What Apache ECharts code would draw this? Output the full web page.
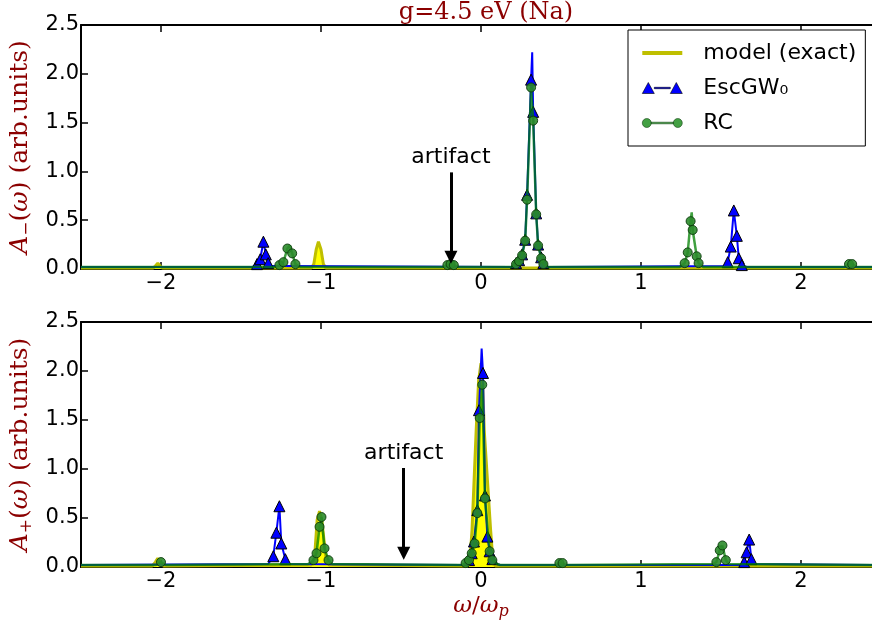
<!DOCTYPE html>
<html>
<head>
<meta charset="utf-8">
<script src="https://cdn.jsdelivr.net/npm/echarts@6/dist/echarts.min.js"></script>
<style>
  html, body { margin: 0; padding: 0; background: #fff; }
  #chart { width: 872px; height: 634px; }
</style>
</head>
<body>
<div id="chart"></div>
<script>
// tick positions
const xTicks = [-2, -1, 0, 1, 2];

// A_-(w), top panel: [omega, value] (third entry 0 = point without marker)
const modelMinus = [
    [-2.5, 0.01], [-2.05, 0.01], [-2.035, 0.03], [-2.02, 0.06], [-2.005, 0.03], [-1.99, 0.01],
    [-1.06, 0.01], [-1.045, 0.05], [-1.03, 0.2], [-1.016, 0.28], [-1.0, 0.2], [-0.985, 0.05],
    [-0.97, 0.01], [2.5, 0.01]
];
const escMinus = [
    [-2.5, 0.02], [-1.43, 0.02], [-1.40, 0.05], [-1.38, 0.10], [-1.36, 0.28], [-1.345, 0.15],
    [-1.33, 0.06], [-1.31, 0.03], [-1.2, 0.03], [0.19, 0.02], [0.219, 0.06], [0.238, 0.09],
    [0.257, 0.15], [0.276, 0.30], [0.288, 0.76], [0.313, 1.94], [0.32, 2.22, 0], [0.326, 1.61],
    [0.345, 0.57], [0.357, 0.25], [0.376, 0.12], [0.39, 0.06], [0.42, 0.02], [1.52, 0.03],
    [1.542, 0.07], [1.561, 0.23], [1.58, 0.60], [1.599, 0.34], [1.611, 0.11], [1.63, 0.04],
    [1.66, 0.02], [2.5, 0.02]
];
const rcMinus = [
    [-2.5, 0.02], [-1.29, 0.02], [-1.26, 0.04], [-1.235, 0.07], [-1.21, 0.21], [-1.195, 0.24, 0],
    [-1.18, 0.16], [-1.16, 0.05], [-1.13, 0.02], [-0.24, 0.02], [-0.21, 0.04], [-0.19, 0.05],
    [-0.17, 0.04], [-0.14, 0.02], [0.19, 0.02], [0.219, 0.05], [0.238, 0.08], [0.257, 0.14],
    [0.276, 0.29], [0.288, 0.71], [0.313, 1.86], [0.326, 1.52], [0.345, 0.56], [0.357, 0.24],
    [0.376, 0.11], [0.39, 0.05], [0.42, 0.02], [1.24, 0.02], [1.273, 0.06], [1.292, 0.17],
    [1.31, 0.49], [1.317, 0.58, 0], [1.323, 0.40], [1.348, 0.13], [1.36, 0.06], [1.39, 0.02],
    [2.27, 0.02], [2.3, 0.05], [2.32, 0.05], [2.35, 0.02], [2.5, 0.02]
];

// A_+(w), bottom panel
const modelPlus = [
    [-2.5, 0.01], [-2.055, 0.01], [-2.035, 0.05], [-2.02, 0.09], [-2.005, 0.05], [-1.985, 0.01],
    [-1.06, 0.02], [-1.04, 0.1], [-1.024, 0.48], [-1.009, 0.57], [-0.995, 0.48], [-0.97, 0.1],
    [-0.95, 0.02], [-0.085, 0.01], [-0.07, 0.05], [-0.056, 0.38], [-0.03, 1.40], [-0.015, 1.9],
    [0.0, 2.08], [0.01, 1.9], [0.02, 1.40], [0.06, 0.38], [0.075, 0.05], [0.09, 0.01], [2.5, 0.01]
];
const escPlus = [
    [-2.5, 0.02], [-1.33, 0.03], [-1.298, 0.11], [-1.279, 0.35], [-1.26, 0.62], [-1.248, 0.24],
    [-1.223, 0.08], [-1.2, 0.03], [-0.12, 0.02], [-0.1, 0.03], [-0.075, 0.07], [-0.058, 0.14],
    [-0.044, 0.26], [-0.023, 0.58], [-0.0125, 1.60], [0.004, 2.23, 0], [0.0125, 1.98],
    [0.025, 0.73], [0.04, 0.31], [0.054, 0.16], [0.071, 0.08], [0.1, 0.03], [0.12, 0.02],
    [1.62, 0.02], [1.645, 0.05], [1.66, 0.15], [1.676, 0.28], [1.69, 0.08], [1.71, 0.03], [2.5, 0.02]
];
const rcPlus = [
    [-2.5, 0.02], [-2.03, 0.02], [-2.0, 0.05], [-1.97, 0.02], [-1.08, 0.03], [-1.047, 0.07],
    [-1.028, 0.14], [-1.009, 0.41], [-0.997, 0.51], [-0.978, 0.19], [-0.953, 0.07], [-0.93, 0.03],
    [-0.12, 0.02], [-0.096, 0.04], [-0.075, 0.07], [-0.058, 0.14], [-0.04, 0.24], [-0.023, 0.55],
    [-0.008, 1.52], [0.008, 1.86], [0.025, 0.70], [0.054, 0.16], [0.071, 0.07], [0.1, 0.03],
    [0.12, 0.02], [0.47, 0.02], [0.49, 0.04], [0.51, 0.04], [0.53, 0.02], [1.45, 0.03],
    [1.471, 0.05], [1.492, 0.17], [1.509, 0.22], [1.53, 0.07], [1.55, 0.03], [2.5, 0.02]
];

// "artifact" arrows: [omega, tail value, head value]
const arrowMinus = [-0.188, 0.99, 0.12];
const arrowPlus = [-0.483, 1.01, 0.14];

const darkRed = '#8b0000';
const sans = 'DejaVu Sans';
const serif = 'DejaVu Serif';

// legend glyphs like matplotlib's (marker at both ends of the sample line)
const iconModel = 'path://M0,0 L40,0 L40,4 L0,4 Z';
const iconEsc = 'path://M0,12 L6,1 L12,12 Z M12,5.8 L28,5.8 L28,7.2 L12,7.2 Z M28,12 L34,1 L40,12 Z';
const iconRc = 'path://M0,7 a4.5,4.5 0 1,0 9,0 a4.5,4.5 0 1,0 -9,0 Z M9,6.2 L31,6.2 L31,7.8 L9,7.8 Z M31,7 a4.5,4.5 0 1,0 9,0 a4.5,4.5 0 1,0 -9,0 Z';

const chart = echarts.init(document.getElementById('chart'));

const xFmt = v => (v < 0 ? '\u2212' + Math.abs(v) : String(v));

function xAxes(gridIndex) {
    return [
        {
            type: 'value', gridIndex: gridIndex, position: 'bottom', min: -2.5, max: 2.5,
            axisLine: { show: true, onZero: false, lineStyle: { color: '#000', width: 2 } },
            axisTick: { show: true, inside: true, length: 7, customValues: xTicks, lineStyle: { color: '#000', width: 1.5 } },
            axisLabel: { show: true, customValues: xTicks, formatter: xFmt, color: '#000', fontSize: 21, fontFamily: sans, margin: 4 },
            splitLine: { show: false }
        },
        {
            type: 'value', gridIndex: gridIndex, position: 'top', min: -2.5, max: 2.5,
            axisLine: { show: true, onZero: false, lineStyle: { color: '#000', width: 2 } },
            axisTick: { show: true, inside: true, length: 7, customValues: xTicks, lineStyle: { color: '#000', width: 1.5 } },
            axisLabel: { show: false },
            splitLine: { show: false }
        }
    ];
}

function yAxis(gridIndex, sub) {
    return {
        type: 'value', gridIndex: gridIndex, min: 0, max: 2.5, interval: 0.5,
        name: '{i|A}{s|' + sub + '}{t|(}{i|\u03c9}{t|) (arb.units)}',
        nameLocation: 'middle', nameGap: 44,
        nameTextStyle: {
            color: darkRed, fontFamily: serif, fontSize: 25,
            rich: {
                i: { color: darkRed, fontFamily: serif, fontSize: 25, fontStyle: 'italic' },
                t: { color: darkRed, fontFamily: serif, fontSize: 25 },
                s: { color: darkRed, fontFamily: serif, fontSize: 17, padding: [12, 0, 0, 0] }
            }
        },
        axisLine: { show: true, onZero: false, lineStyle: { color: '#000', width: 2 } },
        axisTick: { show: true, inside: true, length: 7, lineStyle: { color: '#000', width: 1.5 } },
        axisLabel: { color: '#000', fontSize: 21, fontFamily: sans, margin: 2, formatter: v => v.toFixed(1) },
        splitLine: { show: false }
    };
}

function modelSeries(data, xi, yi) {
    return {
        name: 'model (exact)', type: 'line', xAxisIndex: xi, yAxisIndex: yi,
        data: data.map(p => [p[0], p[1]]), symbol: 'none',
        lineStyle: { color: '#bfbf00', width: 3 },
        itemStyle: { color: '#bfbf00' },
        areaStyle: { color: '#ffff00', opacity: 1 },
        z: 2
    };
}

const markerSize = size => (v => (v[2] === 0 || v[1] < 0.035 ? 0 : size));

function escSeries(data, xi, yi) {
    return {
        name: 'EscGW\u2080', type: 'line', xAxisIndex: xi, yAxisIndex: yi,
        data: data, symbol: 'triangle', symbolSize: markerSize(11),
        lineStyle: { color: '#0000ff', width: 2 },
        itemStyle: { color: '#0000ff', borderColor: '#000', borderWidth: 1 },
        z: 3
    };
}

function rcSeries(data, xi, yi, arrow) {
    return {
        name: 'RC', type: 'line', xAxisIndex: xi, yAxisIndex: yi,
        data: data, symbol: 'circle', symbolSize: markerSize(9),
        lineStyle: { color: 'rgba(0,128,0,0.75)', width: 2.5 },
        itemStyle: { color: '#2b8b2b', borderColor: '#0c3a0c', borderWidth: 1, opacity: 0.9 },
        z: 4,
        markLine: {
            silent: true,
            symbol: ['none', 'triangle'],
            symbolSize: 13,
            lineStyle: { color: '#000', width: 3, type: 'solid' },
            label: { show: true, formatter: 'artifact', position: 'start', color: '#000', fontSize: 22, fontFamily: sans, distance: 4 },
            data: [[{ coord: [arrow[0], arrow[1]] }, { coord: [arrow[0], arrow[2]] }]]
        }
    };
}

const option = {
    animation: false,
    backgroundColor: '#fff',
    title: {
        text: 'g=4.5 eV (Na)',
        left: 481, top: -4, textAlign: 'center',
        textStyle: { color: darkRed, fontFamily: serif, fontSize: 24, fontWeight: 'normal' }
    },
    legend: {
        orient: 'vertical', left: 628, top: 30,
        backgroundColor: '#fff', borderColor: '#000', borderWidth: 1, borderRadius: 0,
        padding: [11, 9, 11, 14],
        itemWidth: 40, itemHeight: 13, itemGap: 11,
        textStyle: { color: '#000', fontSize: 22, fontFamily: sans, lineHeight: 24, padding: [0, 0, 0, 16] },
        data: [
            { name: 'model (exact)', icon: iconModel },
            { name: 'EscGW\u2080', icon: iconEsc, itemStyle: { borderWidth: 0.6 } },
            { name: 'RC', icon: iconRc, itemStyle: { borderWidth: 0.6, color: '#2f962f' } }
        ]
    },
    grid: [
        { left: 81, top: 25, width: 800, height: 244, outerBoundsMode: 'none', containLabel: false },
        { left: 81, top: 322, width: 800, height: 245, outerBoundsMode: 'none', containLabel: false }
    ],
    xAxis: [
        ...xAxes(0),
        ...xAxes(1).map((a, k) => k === 0 ? Object.assign(a, {
            name: '{i|\u03c9}{t|/}{i|\u03c9}{s|p}', nameLocation: 'middle', nameGap: 26,
            nameTextStyle: {
                color: darkRed, fontFamily: serif, fontSize: 23,
                rich: {
                    i: { color: darkRed, fontFamily: serif, fontSize: 23, fontStyle: 'italic' },
                    t: { color: darkRed, fontFamily: serif, fontSize: 23 },
                    s: { color: darkRed, fontFamily: serif, fontSize: 16, fontStyle: 'italic', padding: [11, 0, 0, 0] }
                }
            }
        }) : a)
    ],
    yAxis: [yAxis(0, '\u2212'), yAxis(1, '+')],
    series: [
        modelSeries(modelMinus, 0, 0),
        escSeries(escMinus, 0, 0),
        rcSeries(rcMinus, 0, 0, arrowMinus),
        modelSeries(modelPlus, 2, 1),
        escSeries(escPlus, 2, 1),
        rcSeries(rcPlus, 2, 1, arrowPlus)
    ]
};

chart.setOption(option);
</script>
</body>
</html>
